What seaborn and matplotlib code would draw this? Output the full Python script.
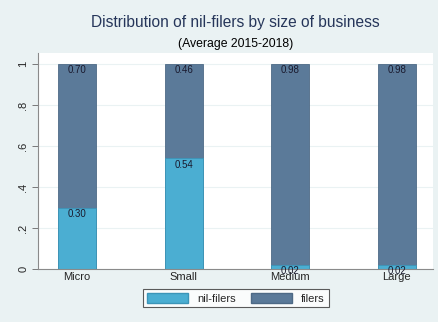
import matplotlib
matplotlib.use("Agg")
import matplotlib.pyplot as plt
import seaborn as sns
import numpy as np

# =====================================
# Data
# =====================================

sizes = ["Micro", "Small", "Medium", "Large"]
nil_filers = [0.30, 0.54, 0.02, 0.02]
filers = [0.70, 0.46, 0.98, 0.98]

bg = "#EAF2F3"
c_nil = "#4BAED2"
c_fil = "#5B7A99"

sns.set_style("white")
plt.rcParams["font.family"] = ["Liberation Sans", "DejaVu Sans"]

fig = plt.figure(figsize=(4.39, 3.22), dpi=100, facecolor=bg)
ax = fig.add_axes([0.0866, 0.1646, 0.90, 0.671])
ax.set_facecolor("white")

totals = np.array(nil_filers) + np.array(filers)

# stacked: full bar in filers colour, nil-filers drawn over the bottom part
sns.barplot(x=sizes, y=totals, color=c_fil, width=0.355,
            edgecolor="#4E6A86", linewidth=0.6, ax=ax, saturation=1)
sns.barplot(x=sizes, y=nil_filers, color=c_nil, width=0.355,
            edgecolor="#3C95B8", linewidth=0.6, ax=ax, saturation=1)

# value labels at the top of each segment
for i in range(len(sizes)):
    ax.text(i, nil_filers[i] - 0.006, f"{nil_filers[i]:.2f}", ha="center",
            va="top", fontsize=7, color="#1a1a2e", clip_on=False)
    ax.text(i, totals[i] - 0.006, f"{filers[i]:.2f}", ha="center",
            va="top", fontsize=7, color="#1a1a2e")

ax.set_xlim(-0.365, 3.34)
ax.set_ylim(0, 1.054)
ax.set_yticks([0, 0.2, 0.4, 0.6, 0.8, 1.0])
ax.set_yticklabels(["0", ".2", ".4", ".6", ".8", "1"], rotation=90,
                   va="center", fontsize=8)
ax.tick_params(axis="x", labelsize=8, length=0, pad=2)
ax.tick_params(axis="y", length=4, width=0.6, color="#666666", pad=3, left=True)
ax.yaxis.grid(True, color=bg, linewidth=0.8)
ax.set_axisbelow(True)
ax.set_xlabel("")
ax.set_ylabel("")

for s in ["top", "right"]:
    ax.spines[s].set_visible(False)
for s in ["left", "bottom"]:
    ax.spines[s].set_color("#8a8a8a")
    ax.spines[s].set_linewidth(0.8)

fig.text(0.537, 0.93, "Distribution of nil-filers by size of business",
         ha="center", va="center", fontsize=11.2, color="#26365A")
fig.text(0.537, 0.863, "(Average 2015-2018)", ha="center", va="center",
         fontsize=8.8, color="black")

handles = [plt.Rectangle((0, 0), 1, 1, facecolor=c_nil, edgecolor="#3C95B8"),
           plt.Rectangle((0, 0), 1, 1, facecolor=c_fil, edgecolor="#4E6A86")]
leg = fig.legend(handles, ["nil-filers", "filers"], loc="center",
                 bbox_to_anchor=(0.537, 0.074), ncol=2, fontsize=8,
                 frameon=True, fancybox=False, edgecolor="#333333",
                 handlelength=3.7, handleheight=1.0, columnspacing=1.4,
                 borderpad=0.35, handletextpad=0.8)
leg.get_frame().set_linewidth(0.8)
leg.get_frame().set_facecolor("white")

plt.savefig("out.png", dpi=100, facecolor=bg)
